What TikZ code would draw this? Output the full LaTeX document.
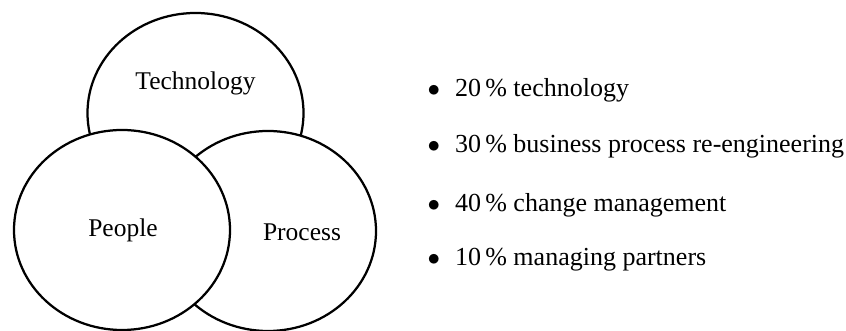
\documentclass[tikz,border=0pt]{standalone}
\usepackage{fontspec}
\setmainfont{Liberation Serif}
\usetikzlibrary{shapes.geometric,positioning}
\tikzset{
  setring/.style={ellipse, draw, line width=0.9pt, fill=white,
    minimum width=86.4pt, minimum height=80pt, inner sep=0pt},
  setname/.style={font=\fontsize{10.2}{12}\selectfont, inner sep=0pt},
  item/.style={anchor=west, font=\fontsize{10.4}{12}\selectfont, inner sep=0pt}
}
\newcommand{\shareitem}[1]{$\bullet$\hspace{6pt}#1}
\begin{document}
\begin{tikzpicture}[x=0.4pt,y=-0.4pt]
\useasboundingbox (0,0) rectangle (846,331);
% three overlapping sets, people on top
\node[setring] (tech) at (195.5,113){};
\node[setring] (proc) at (268,231){};
\node[setring] (ppl) at (122,230){};
\node[setname] (techtxt) at (195.5,83){Technology};
\node[setname] (ppltxt) at (123,230){People};
\node[setname] (proctxt) at (302,232){Process};
% shares
\node[item] (it1) at (427,90){\shareitem{20\,\% technology}};
\node[item] (it2) at (427,146){\shareitem{30\,\% business process re-engineering}};
\node[item] (it3) at (427,205){\shareitem{40\,\% change management}};
\node[item] (it4) at (427,260){\shareitem{10\,\% managing partners}};
\end{tikzpicture}
\end{document}
